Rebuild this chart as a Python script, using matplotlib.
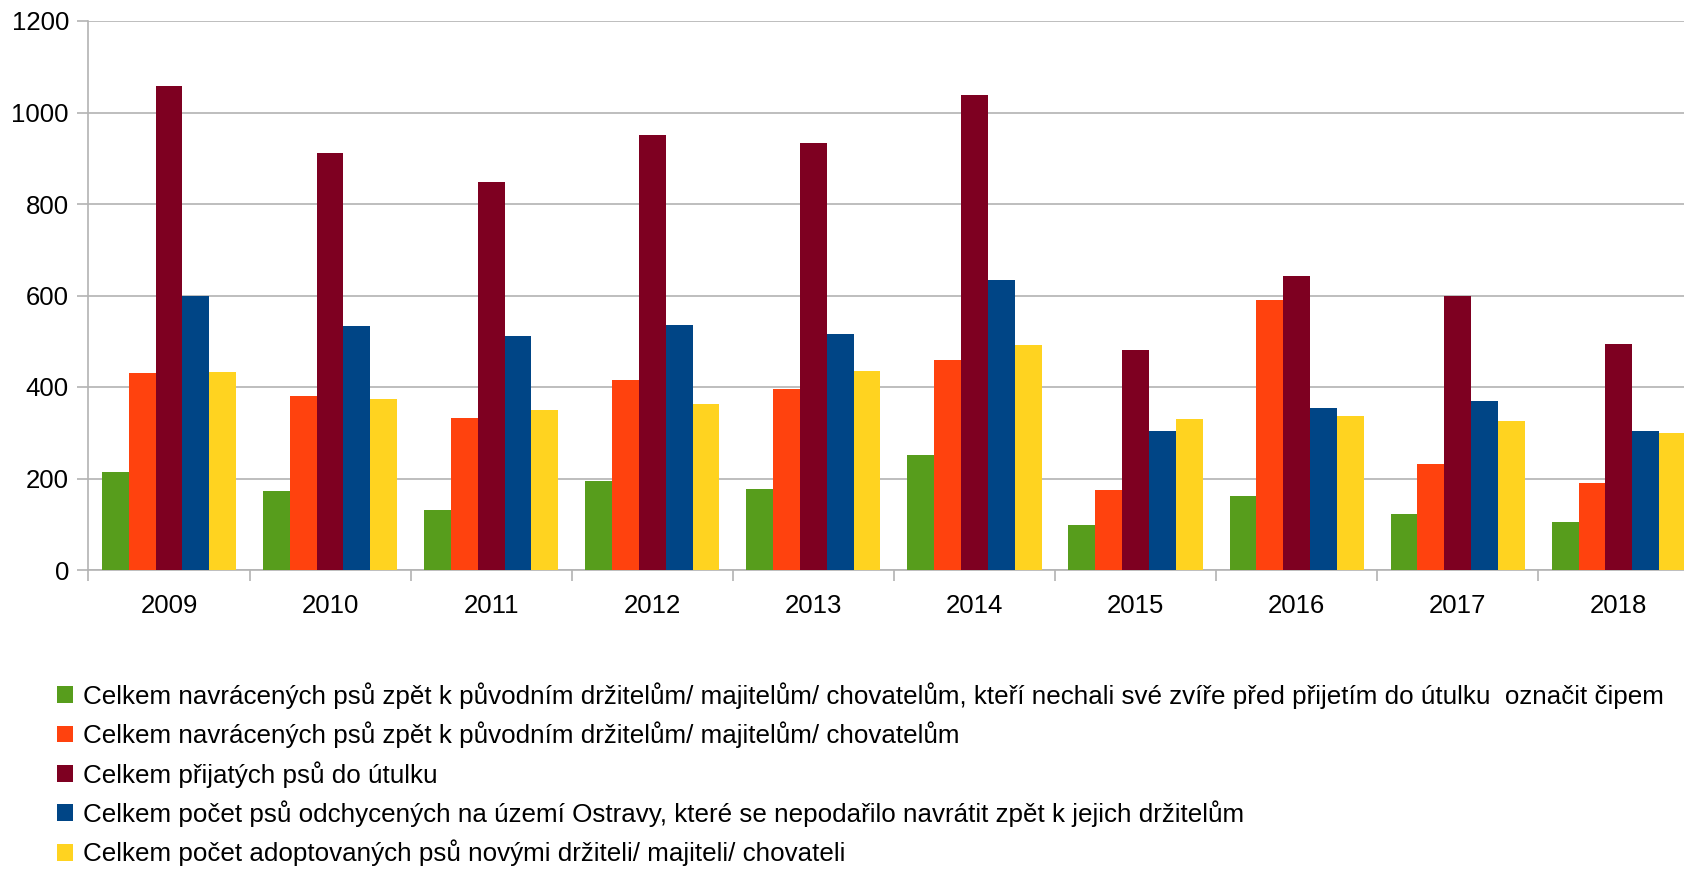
import matplotlib
matplotlib.use("Agg")
import matplotlib.pyplot as plt
import numpy as np

years = ["2009", "2010", "2011", "2012", "2013", "2014", "2015", "2016", "2017", "2018"]

vraceni_cip = [214, 172, 131, 194, 177, 251, 98, 162, 122, 106]
vraceni = [430, 380, 332, 415, 395, 459, 174, 590, 231, 190]
prijati = [1058, 911, 848, 951, 933, 1038, 480, 643, 598, 494]
nevraceni = [599, 533, 511, 536, 515, 633, 304, 354, 369, 304]
adoptovani = [433, 373, 350, 362, 434, 491, 330, 336, 326, 299]

labels = [
    "Celkem navrácených psů zpět k původním držitelům/ majitelům/ chovatelům, kteří nechali své zvíře před přijetím do útulku  označit čipem",
    "Celkem navrácených psů zpět k původním držitelům/ majitelům/ chovatelům",
    "Celkem přijatých psů do útulku",
    "Celkem počet psů odchycených na území Ostravy, které se nepodařilo navrátit zpět k jejich držitelům",
    "Celkem počet adoptovaných psů novými držiteli/ majiteli/ chovateli",
]
colors = ["#579d1c", "#ff420e", "#7e0021", "#004586", "#ffd320"]

plt.rcParams["font.family"] = ["Liberation Sans", "DejaVu Sans"]
grid_col = "#b3b3b3"

fig = plt.figure(figsize=(16.84, 8.69), dpi=100)
# plot area runs a bit past the right edge, like the original crop
ax = fig.add_axes([88.4 / 1684, 299 / 869, 1611 / 1684, 549 / 869])

series = [vraceni_cip, vraceni, prijati, nevraceni, adoptovani]
x = np.arange(len(years))
w = 0.1666
handles = []
for i, (vals, col) in enumerate(zip(series, colors)):
    b = ax.bar(x + (i - 2) * w, vals, width=w, color=col, zorder=3)
    handles.append(b)

ax.set_xlim(-0.5, len(years) - 0.5)
ax.set_ylim(0, 1200)
ax.set_yticks(range(0, 1201, 200))
ax.yaxis.grid(True, color=grid_col, linewidth=1.2, zorder=0)

ax.set_xticks(x)
ax.set_xticklabels(years)
ax.set_xticks(np.arange(-0.5, len(years) + 0.5, 1), minor=True)
ax.tick_params(axis="x", which="major", length=0, pad=17, labelsize=18.5)
ax.tick_params(axis="x", which="minor", length=8, color=grid_col, width=1.2)
ax.tick_params(axis="y", length=8, color=grid_col, width=1.2, pad=6, labelsize=18.5)

for s in ["top", "right"]:
    ax.spines[s].set_visible(False)
for s in ["left", "bottom"]:
    ax.spines[s].set_color(grid_col)
    ax.spines[s].set_linewidth(1.2)

fig.legend(handles, labels, loc="upper left", bbox_to_anchor=(57 / 1684, 1 - 682 / 869),
           frameon=False, fontsize=18.7, handlelength=0.62, handleheight=0.62,
           handletextpad=0.37, labelspacing=0.49, borderaxespad=0, borderpad=0)

fig.savefig("out.png", dpi=100)
